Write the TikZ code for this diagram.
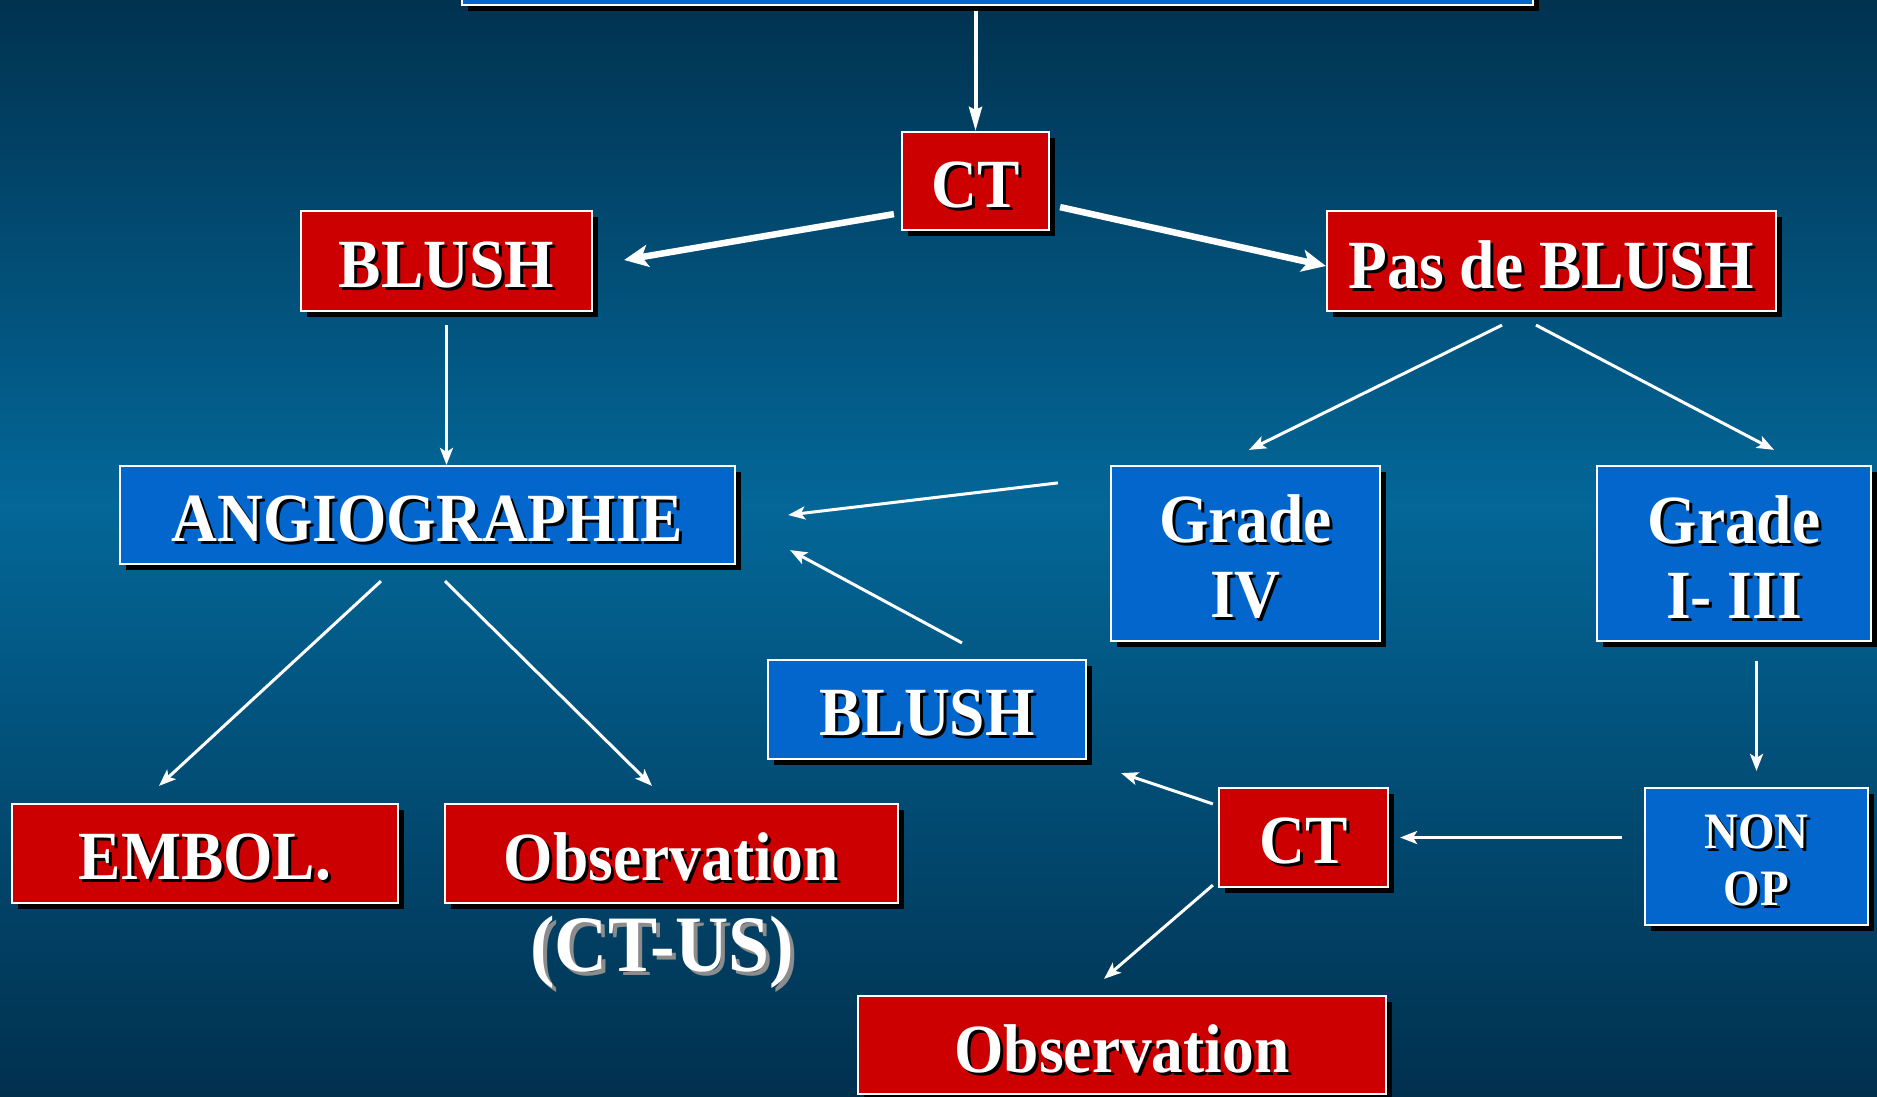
\documentclass[tikz,border=0pt]{standalone}
\usepackage{fontspec}
\setmainfont{Liberation Serif}[FakeStretch=0.92]
\usetikzlibrary{arrows.meta,shadows,calc}
\definecolor{cRed}{RGB}{204,0,0}
\definecolor{cBlue}{RGB}{3,102,204}
\definecolor{bgTop}{RGB}{1,50,80}
\definecolor{bgMid}{RGB}{3,103,152}
\definecolor{bgBot}{RGB}{1,48,78}
\pgfdeclareverticalshading{bgshade}{100bp}{color(0bp)=(bgBot); color(25bp)=(bgBot); color(52bp)=(bgMid); color(75bp)=(bgTop); color(100bp)=(bgTop)}
\newcommand\sh[1]{\leavevmode\raisebox{-5pt}[\height][\depth]{\rlap{\kern3pt\raisebox{-3pt}{\color{black}#1}}#1}}
\newcommand\shg[1]{\leavevmode\raisebox{-5pt}[\height][\depth]{\rlap{\kern4pt\raisebox{-4pt}{\color{black!45}#1}}#1}}
\newcommand\bigfont{\fontsize{69}{75}\selectfont\bfseries}
\newcommand\midfont{\fontsize{51}{57}\selectfont\bfseries}
\newcommand\ctusfont{\fontsize{80}{86}\selectfont\bfseries}
\tikzset{
  box/.style={draw=white, line width=2.2pt, inner sep=0pt, align=center, text=white, font=\bigfont,
    drop shadow={shadow xshift=6pt, shadow yshift=-6pt, opacity=1, fill=black}},
  redbox/.style={box, fill=cRed},
  bluebox/.style={box, fill=cBlue},
  arr/.style={draw=white, line width=3pt, -{Stealth[length=17pt,width=13pt,inset=4pt]}},
  fatarr/.style={draw=white, line width=6.5pt, -{Stealth[length=24pt,width=22pt,inset=6pt]}},
  toparr/.style={draw=white, line width=4pt, -{Stealth[length=24pt,width=13pt,inset=3pt]}},
}
\begin{document}
\begin{tikzpicture}[x=1pt,y=-1pt]
\useasboundingbox (0,0) rectangle (1877,1096);
\begin{scope}
\clip (0,0) rectangle (1877,1096);
\shade[shading=bgshade] (0,0) rectangle (1877,1096);

% nodes
\node[bluebox, minimum width=1071pt, minimum height=45pt] (top) at (997.5,-17.5) {};
\node[redbox, minimum width=147pt, minimum height=98pt] (ct1) at (975.5,181) {\sh{CT}};
\node[redbox, minimum width=291pt, minimum height=100pt] (blushR) at (446.5,261) {\sh{BLUSH}};
\node[redbox, minimum width=449pt, minimum height=100pt] (pas) at (1551.5,261) {\sh{Pas de BLUSH}};
\node[bluebox, minimum width=615pt, minimum height=98pt] (angio) at (427.5,515) {\sh{ANGIOGRAPHIE}};
\node[bluebox, minimum width=269pt, minimum height=175pt] (g4) at (1245.5,553.5) {\sh{Grade}\\\sh{IV}};
\node[bluebox, minimum width=274pt, minimum height=175pt] (g13) at (1734,553.5) {\sh{Grade}\\\sh{I- III}};
\node[bluebox, minimum width=318pt, minimum height=99pt] (blushB) at (927,709.5) {\sh{BLUSH}};
\node[redbox, minimum width=386pt, minimum height=99pt] (embol) at (205,853.5) {\sh{EMBOL.}};
\node[redbox, minimum width=453pt, minimum height=99pt] (obs1) at (671.5,853.5) {\sh{Observation}};
\node[text=white, font=\ctusfont, inner sep=0pt] (ctus) at (662,949) {\shg{(CT-US)}};
\node[redbox, minimum width=169pt, minimum height=99pt] (ct2) at (1303.5,837.5) {\sh{CT}};
\node[bluebox, minimum width=223pt, minimum height=137pt, font=\midfont] (nonop) at (1756.5,856.5) {\sh{NON}\\\sh{OP}};
\node[redbox, minimum width=528pt, minimum height=98pt] (obs2) at (1122,1045) {\sh{Observation}};

% connectors
\draw[toparr, shorten <=5pt] (top.south -| ct1.north) -- (ct1.north);
\draw[fatarr] ([shift={(-7,-17)}]ct1.south west) -- ([shift={(31,-1)}]blushR.east);
\draw[fatarr] ([shift={(10,-24)}]ct1.south east) -- ([shift={(0,5)}]pas.west);
\draw[arr, shorten <=13pt] (blushR.south) -- (angio.north -| blushR.south);
\draw[arr] ([shift={(-49.5,13)}]pas.south) -- ([shift={(3.5,-15)}]g4.north);
\draw[arr] ([shift={(-15.5,13)}]pas.south) -- ([shift={(40,-15)}]g13.north);
\draw[arr] ([shift={(-52,18)}]g4.north west) -- ([shift={(52,0)}]angio.east);
\draw[arr] ([shift={(35,-16)}]blushB.north) -- ([shift={(54,-15)}]angio.south east);
\draw[arr] ([shift={(-46.5,16)}]angio.south) -- ([shift={(-46,-17)}]embol.north);
\draw[arr] ([shift={(17.5,16)}]angio.south) -- ([shift={(-19.5,-17)}]obs1.north);
\draw[arr, shorten <=19pt, shorten >=16pt] (g13.south -| nonop.north) -- (nonop.north);
\draw[arr, shorten <=22pt, shorten >=11pt] (nonop.west |- ct2.east) -- (ct2.east);
\draw[arr] ([shift={(-5,17)}]ct2.north west) -- ([shift={(34,13)}]blushB.south east);
\draw[arr] ([shift={(-5,-3)}]ct2.south west) -- ([shift={(-18,-16)}]obs2.north);
\end{scope}
\end{tikzpicture}
\end{document}
